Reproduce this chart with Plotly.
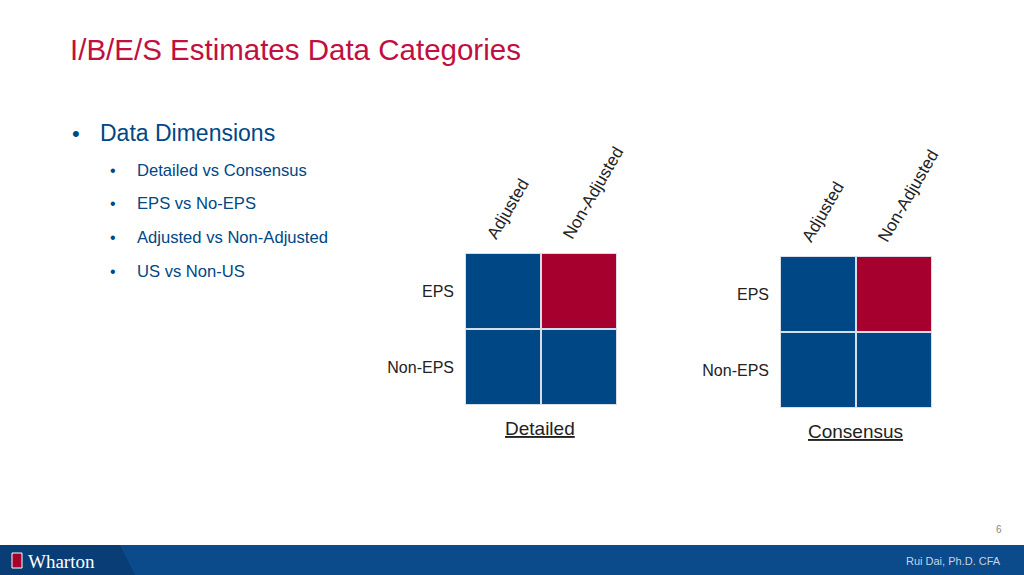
import plotly.graph_objects as go

cols = ["Adjusted", "Non-Adjusted"]
rows = ["Non-EPS", "EPS"]
detailed_z = [[0, 0], [0, 1]]
consensus_z = [[0, 0], [0, 1]]
bullets = ["Detailed vs Consensus", "EPS vs No-EPS", "Adjusted vs Non-Adjusted", "US vs Non-US"]

BLUE = "#004785"; RED = "#A6002F"
cs = [[0, BLUE], [0.5, BLUE], [0.5, RED], [1, RED]]
W, H = 1024, 575
def px(x): return x / W
def py(y): return 1 - y / H

fig = go.Figure()
fig.add_trace(go.Heatmap(z=detailed_z, x=cols, y=rows, colorscale=cs, zmin=0, zmax=1,
                         showscale=False, xgap=2, ygap=2, xaxis="x", yaxis="y", hoverinfo="skip"))
fig.add_trace(go.Heatmap(z=consensus_z, x=cols, y=rows, colorscale=cs, zmin=0, zmax=1,
                         showscale=False, xgap=2, ygap=2, xaxis="x2", yaxis="y2", hoverinfo="skip"))

axx = dict(side="top", tickangle=-60, showgrid=False, zeroline=False, ticks="",
           tickfont=dict(size=17, color="#222"), showline=False, automargin=False,
           ticklabelshift=-14, ticklabelstandoff=4)
axy = dict(showgrid=False, zeroline=False, ticks="", tickfont=dict(size=16, color="#222"),
           ticklabelstandoff=10, automargin=False)
fig.update_layout(
    width=W, height=H, autosize=False, margin=dict(l=0, r=0, t=0, b=0, pad=0),
    paper_bgcolor="white", plot_bgcolor="#d8dee8",
    font=dict(family="Liberation Sans, Arial, sans-serif"),
    xaxis=dict(domain=[px(465), px(617)], anchor="y", **axx),
    yaxis=dict(domain=[py(405), py(253)], anchor="x", **axy),
    xaxis2=dict(domain=[px(780), px(932)], anchor="y2", **axx),
    yaxis2=dict(domain=[py(408), py(256)], anchor="x2", **axy),
)

ann = []
def t(x, y, s, size, color, xanchor="left", **kw):
    ann.append(dict(x=px(x), y=py(y), xref="paper", yref="paper", text=s, showarrow=False,
                    xanchor=xanchor, yanchor="middle", font=dict(size=size, color=color, **kw)))
t(68, 50, "I/B/E/S Estimates Data Categories", 29.5, "#C0103F")
t(70, 133, "•", 22, "#004785")
t(98, 133, "Data Dimensions", 23, "#004785")
for i, b in enumerate(bullets):
    y = 170 + i * 33.7
    t(108, y, "•", 16, "#004785")
    t(135, y, b, 16.6, "#004785")
t(540, 428, "<u>Detailed</u>", 19, "#222", xanchor="center")
t(855, 431, "<u>Consensus</u>", 19, "#222", xanchor="center")
t(1004, 529, "6", 10, "#888", xanchor="right")
t(26, 561, "Wharton", 19, "white", family="Liberation Serif, serif")
t(1003, 561, "Rui Dai, Ph.D. CFA", 11, "#c8d4e4", xanchor="right")

shapes = [
    dict(type="rect", xref="paper", yref="paper", x0=0, x1=1, y0=0, y1=py(545),
         fillcolor="#0b4a8b", line_width=0, layer="below"),
    dict(type="path", xref="paper", yref="paper",
         path=f"M 0 0 L {px(135)} 0 L {px(120)} {py(545)} L 0 {py(545)} Z",
         fillcolor="#083d75", line_width=0),
    dict(type="rect", xref="paper", yref="paper", x0=px(12), x1=px(22), y0=py(568), y1=py(553),
         fillcolor="#a6002f", line=dict(color="white", width=1)),
]
fig.update_layout(annotations=ann, shapes=shapes)
html = fig.to_html(full_html=True, include_plotlyjs=True, default_width="1024px", default_height="575px",
                   config={"displayModeBar": False, "responsive": False})
html = html.replace("<head>", "<head><style>html,body{margin:0;padding:0;overflow:hidden;}</style>", 1)
with open("out.html", "w", encoding="utf-8") as f:
    f.write(html)
if False:
    fig.write_html("out.html")
